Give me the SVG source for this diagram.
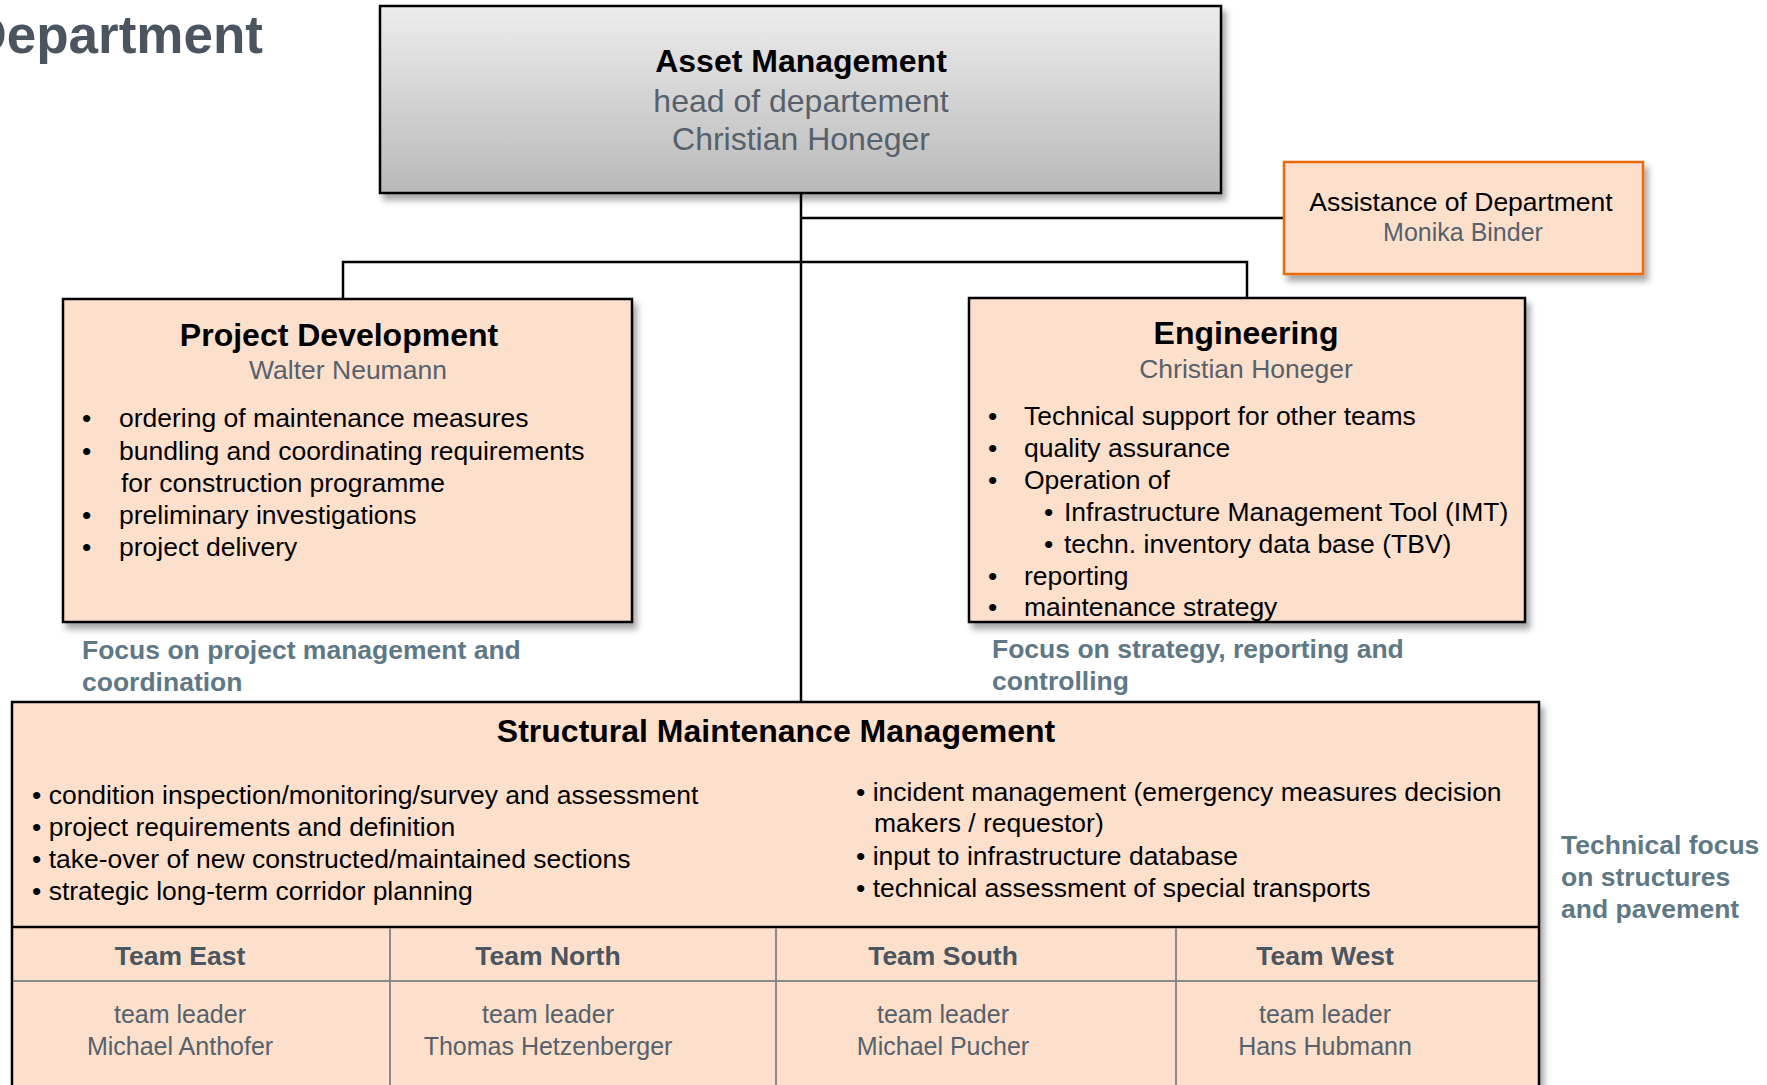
<svg xmlns="http://www.w3.org/2000/svg" width="1767" height="1085" viewBox="0 0 1767 1085">
<defs>
<linearGradient id="gAM" x1="0" y1="0" x2="0" y2="1">
<stop offset="0" stop-color="#ededed"/>
<stop offset="1" stop-color="#b9b9b9"/>
</linearGradient>
<filter id="sh" x="-5%" y="-5%" width="115%" height="120%">
<feDropShadow dx="4" dy="6" stdDeviation="3" flood-color="#000" flood-opacity="0.35"/>
</filter>
</defs>
<style>
text{font-family:"Liberation Sans",Arial,sans-serif}
.box{fill:#fde0cc;stroke:#000;stroke-width:2.5}
.t{font-weight:bold;font-size:32px;fill:#000;text-anchor:middle}
.sub{font-size:26.5px;fill:#56616b;text-anchor:middle}
.b{font-size:26.5px;fill:#000}
.focus{font-weight:bold;font-size:26.5px;fill:#5f7886}
.th{font-weight:bold;font-size:26.5px;fill:#4a5560;text-anchor:middle}
.tl{font-size:25px;fill:#56616b;text-anchor:middle}
.conn{stroke:#000;stroke-width:2.5;fill:none}
.grid{stroke:#8a8a8a;stroke-width:2;fill:none}
</style>
<rect width="1767" height="1085" fill="#fff"/>
<text x="263" y="53" text-anchor="end" style="font-weight:bold;font-size:53px;fill:#4a5560">Department</text>

<g id="connectors">
<line class="conn" x1="801" y1="193" x2="801" y2="702"/>
<line class="conn" x1="801" y1="218" x2="1284" y2="218"/>
<polyline class="conn" points="343,300 343,262 1247,262 1247,299"/>
</g>

<g id="asset-management">
<rect x="380" y="6" width="841" height="187" fill="url(#gAM)" stroke="#000" stroke-width="2.5" filter="url(#sh)"/>
<text class="t" x="801" y="72">Asset Management</text>
<text class="sub" x="801" y="112" style="font-size:32px">head of departement</text>
<text class="sub" x="801" y="150" style="font-size:32px">Christian Honeger</text>
</g>

<g id="assistance">
<rect x="1284" y="162" width="359" height="112" fill="#fde0cc" stroke="#ea6a0c" stroke-width="2.5" filter="url(#sh)"/>
<text x="1461" y="211" text-anchor="middle" style="font-size:26.5px;fill:#000">Assistance of Department</text>
<text class="sub" x="1463" y="241" style="font-size:25px">Monika Binder</text>
</g>

<g id="project-development">
<rect class="box" x="63" y="299" width="569" height="323" filter="url(#sh)"/>
<text class="t" x="339" y="346">Project Development</text>
<text class="sub" x="348" y="379">Walter Neumann</text>
<text class="b" x="82" y="427">•</text><text class="b" x="119" y="427">ordering of maintenance measures</text>
<text class="b" x="82" y="460">•</text><text class="b" x="119" y="460">bundling and coordinating requirements</text>
<text class="b" x="121" y="492">for construction programme</text>
<text class="b" x="82" y="524">•</text><text class="b" x="119" y="524">preliminary investigations</text>
<text class="b" x="82" y="556">•</text><text class="b" x="119" y="556">project delivery</text>
</g>
<text class="focus" x="82" y="659">Focus on project management and</text>
<text class="focus" x="82" y="691">coordination</text>

<g id="engineering">
<rect class="box" x="969" y="298" width="556" height="324" filter="url(#sh)"/>
<text class="t" x="1246" y="344">Engineering</text>
<text class="sub" x="1246" y="378">Christian Honeger</text>
<text class="b" x="988" y="425">•</text><text class="b" x="1024" y="425">Technical support for other teams</text>
<text class="b" x="988" y="457">•</text><text class="b" x="1024" y="457">quality assurance</text>
<text class="b" x="988" y="489">•</text><text class="b" x="1024" y="489">Operation of</text>
<text class="b" x="1044" y="521">•</text><text class="b" x="1064" y="521">Infrastructure Management Tool (IMT)</text>
<text class="b" x="1044" y="553">•</text><text class="b" x="1064" y="553">techn. inventory data base (TBV)</text>
<text class="b" x="988" y="585">•</text><text class="b" x="1024" y="585">reporting</text>
<text class="b" x="988" y="616">•</text><text class="b" x="1024" y="616">maintenance strategy</text>
</g>
<text class="focus" x="992" y="658">Focus on strategy, reporting and</text>
<text class="focus" x="992" y="690">controlling</text>

<g id="structural-maintenance">
<rect class="box" x="12" y="702" width="1527" height="400" filter="url(#sh)"/>
<text class="t" x="776" y="742">Structural Maintenance Management</text>
<text class="b" x="32" y="804">• condition inspection/monitoring/survey and assessment</text>
<text class="b" x="32" y="836">• project requirements and definition</text>
<text class="b" x="32" y="868">• take-over of new constructed/maintained sections</text>
<text class="b" x="32" y="900">• strategic long-term corridor planning</text>
<text class="b" x="856" y="801">• incident management (emergency measures decision</text>
<text class="b" x="874" y="832">makers / requestor)</text>
<text class="b" x="856" y="865">• input to infrastructure database</text>
<text class="b" x="856" y="897">• technical assessment of special transports</text>
<line x1="12" y1="927" x2="1539" y2="927" stroke="#000" stroke-width="2.5"/>
<line class="grid" x1="13" y1="981" x2="1538" y2="981"/>
<line class="grid" x1="390" y1="928" x2="390" y2="1085"/>
<line class="grid" x1="776" y1="928" x2="776" y2="1085"/>
<line class="grid" x1="1176" y1="928" x2="1176" y2="1085"/>
</g>

<g id="team-east">
<text class="th" x="180" y="965">Team East</text>
<text class="tl" x="180" y="1023">team leader</text>
<text class="tl" x="180" y="1055">Michael Anthofer</text>
</g>
<g id="team-north">
<text class="th" x="548" y="965">Team North</text>
<text class="tl" x="548" y="1023">team leader</text>
<text class="tl" x="548" y="1055">Thomas Hetzenberger</text>
</g>
<g id="team-south">
<text class="th" x="943" y="965">Team South</text>
<text class="tl" x="943" y="1023">team leader</text>
<text class="tl" x="943" y="1055">Michael Pucher</text>
</g>
<g id="team-west">
<text class="th" x="1325" y="965">Team West</text>
<text class="tl" x="1325" y="1023">team leader</text>
<text class="tl" x="1325" y="1055">Hans Hubmann</text>
</g>

<text class="focus" x="1561" y="854">Technical focus</text>
<text class="focus" x="1561" y="886">on structures</text>
<text class="focus" x="1561" y="918">and pavement</text>
</svg>
